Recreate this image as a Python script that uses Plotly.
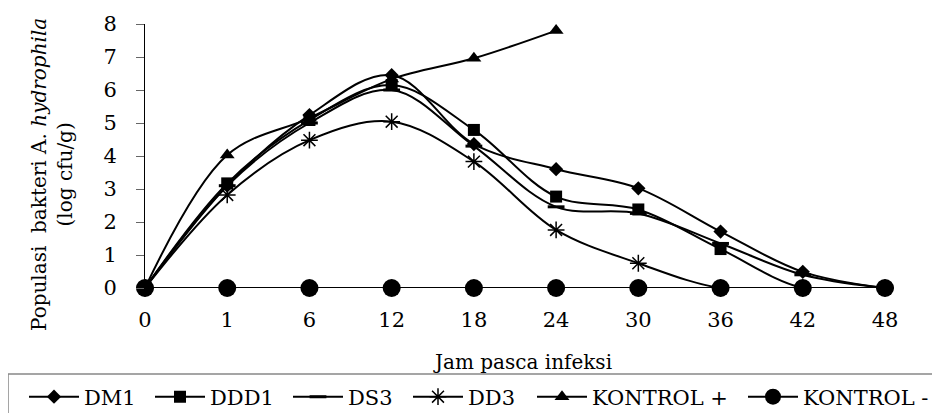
import plotly.graph_objects as go

categories = ["0", "1", "6", "12", "18", "24", "30", "36", "42", "48"]
dm1 = [0, 3.1, 5.24, 6.45, 4.36, 3.6, 3.02, 1.71, 0.49, 0]
ddd1 = [0, 3.17, 5.09, 6.15, 4.79, 2.77, 2.38, 1.18, 0, 0]
ds3 = [0, 3.1, 5.0, 6.0, 4.3, 2.46, 2.26, 1.35, 0.4, 0]
dd3 = [0, 2.82, 4.48, 5.04, 3.83, 1.76, 0.75, 0, 0, 0]
kontrol_pos = [0, 4.03, 5.15, 6.33, 6.96, 7.8, None, None, None, None]
kontrol_neg = [0, 0, 0, 0, 0, 0, 0, 0, 0, 0]

FONT = "DejaVu Serif"
BLACK = "#000000"

series = [
    ("DM1", dm1, dict(symbol="diamond", size=11, color=BLACK)),
    ("DDD1", ddd1, dict(symbol="square", size=12, color=BLACK)),
    ("DS3", ds3, dict(symbol="line-ew-open", size=12, color=BLACK, line=dict(width=3, color=BLACK))),
    ("DD3", dd3, dict(symbol="asterisk-open", size=14, color=BLACK, line=dict(width=1.5, color=BLACK))),
    ("KONTROL +", kontrol_pos, dict(symbol="triangle-up", size=13, color=BLACK)),
    ("KONTROL -", kontrol_neg, dict(symbol="circle", size=18, color=BLACK)),
]
# left edge (px, in the reference) where each legend entry starts
legend_starts = [29, 155, 293, 413, 537, 748]

# the page body has an 8px margin, so the figure is drawn 8px right/down
OFF = 8
W, H = 940 - OFF, 413 - OFF
L, T = 145 - OFF, 24 - OFF
B = H - (288 - OFF)
R = W - (885 - OFF)
pw = W - L - R
ph = H - T - B

def px_x(p):
    return (p - OFF - L) / pw

def px_y(p):
    return (288 - p) / ph

fig = go.Figure()
legends = {}
for i, (name, vals, mk) in enumerate(series):
    key = "legend" if i == 0 else f"legend{i + 1}"
    fig.add_trace(go.Scatter(
        x=categories, y=vals, name=name, mode="lines+markers",
        line=dict(color=BLACK, width=2, shape="spline", smoothing=1),
        marker=mk, cliponaxis=False, connectgaps=False, legend=key,
    ))
    legends[key] = dict(
        orientation="h",
        x=px_x(legend_starts[i] - 5), xanchor="left",
        y=px_y(397), yanchor="middle",
        font=dict(family=FONT, size=21, color=BLACK),
        bgcolor="rgba(0,0,0,0)", borderwidth=0,
        itemwidth=50,
    )

fig.update_layout(
    width=W, height=H,
    margin=dict(l=L, r=R, t=T, b=B, autoexpand=False),
    paper_bgcolor="white", plot_bgcolor="white",
    font=dict(family=FONT, size=20, color=BLACK),
    showlegend=True,
    xaxis=dict(
        type="category", range=[0, 9], showgrid=False, zeroline=False,
        showline=False, ticks="", ticklabelstandoff=17, automargin=False,
        tickfont=dict(family=FONT, size=21, color=BLACK),
    ),
    yaxis=dict(
        range=[0, 8], dtick=1, showgrid=False, zeroline=False,
        showline=True, linecolor=BLACK, linewidth=1, automargin=False,
        ticks="outside", ticklen=8, tickcolor="#666666", tickwidth=1,
        ticklabelstandoff=15,
        tickfont=dict(family=FONT, size=21, color=BLACK),
    ),
    annotations=[
        dict(text="Populasi  bakteri A. <i>hydrophila</i><br>(log cfu/g)",
             xref="paper", yref="paper", x=px_x(52), y=px_y(175),
             xanchor="center", yanchor="middle", textangle=-90, showarrow=False,
             font=dict(family=FONT, size=20, color=BLACK)),
        dict(text="Jam pasca infeksi", xref="paper", yref="paper",
             x=px_x(522), y=px_y(362), xanchor="center", yanchor="middle",
             showarrow=False, font=dict(family=FONT, size=20, color=BLACK)),
    ],
    shapes=[
        dict(type="rect", xref="paper", yref="paper",
             x0=px_x(8), x1=px_x(960), y0=px_y(374), y1=px_y(430),
             line=dict(color="#888888", width=1.5), fillcolor="rgba(0,0,0,0)"),
    ],
    **legends,
)

fig.write_html("out.html")
